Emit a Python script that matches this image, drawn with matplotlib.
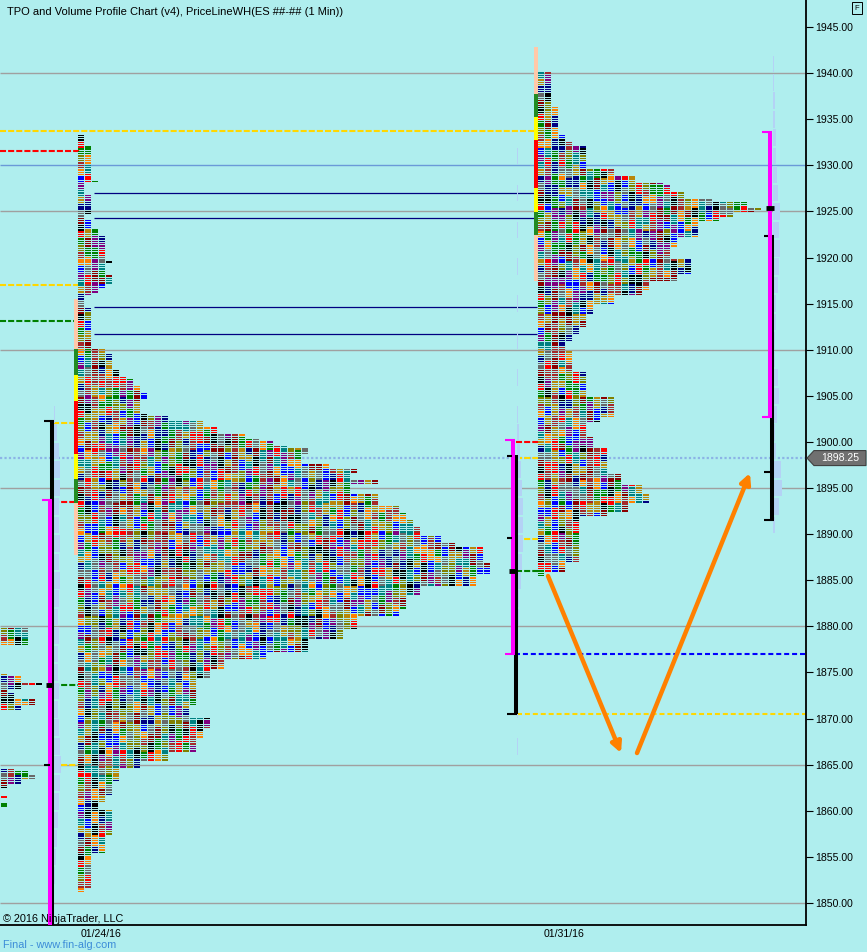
import numpy as np
import matplotlib
matplotlib.use("Agg")
import matplotlib.pyplot as plt
from matplotlib.patches import Polygon

plt.rcParams['font.family'] = ['Liberation Sans', 'DejaVu Sans']

TICK = 0.25
BG = "#AFEEEE"
PALETTE = ["#000000", "#008000", "#A52A2A", "#0000FF", "#008080", "#000080",
           "#8B0000", "#FF0000", "#808000", "#FF8000", "#800080", "#B8860B",
           "#696969"]

# TPO profile outlines: price where a run starts (going down) -> number of TPO columns
LEFT_START = [1933.18, 1932.09, 1928.30, 1928.08, 1926.89, 1924.61, 1924.18, 1923.09,
              1922.33, 1919.62, 1919.25, 1918.10, 1917.24, 1916.70, 1916.15, 1915.90,
              1914.63, 1910.08, 1909.65, 1907.91, 1907.15, 1906.83, 1906.17, 1905.42,
              1904.66, 1903.14, 1902.92, 1902.49, 1901.62, 1900.97, 1900.43, 1900.10,
              1899.67, 1899.34, 1898.58, 1897.72, 1897.17, 1896.63, 1895.87, 1895.33,
              1894.25, 1893.16, 1892.29, 1891.53, 1890.77, 1889.91, 1889.15, 1888.61,
              1886.98, 1885.57, 1884.27, 1883.40, 1881.99, 1881.01, 1879.61, 1878.52,
              1877.11, 1876.35, 1875.27, 1874.40, 1871.25, 1870.17, 1868.76, 1867.89,
              1866.37, 1865.29, 1864.64, 1863.12, 1861.71, 1860.84, 1860.08, 1857.37,
              1855.42, 1851.62]
LEFT_COLS = [1, 2, 3, 1, 2, 1, 2, 3,
             4, 5, 4, 5, 4, 3, 2, 1,
             2, 4, 5, 6, 7, 8, 9, 10,
             9, 10, 13, 18, 20, 24, 26, 28,
             30, 33, 32, 36, 40, 39, 43, 39,
             43, 46, 47, 48, 49, 52, 54, 58,
             59, 57, 49, 47, 46, 40, 38, 33,
             27, 21, 19, 17, 16, 19, 18, 17,
             13, 9, 6, 5, 4, 3, 5, 4,
             2, 1]
LEFT_LOW = 1851.25

RIGHT_START = [1940.12, 1936.32, 1933.40, 1932.64, 1932.09, 1929.71, 1928.84, 1928.08,
               1927.76, 1927.11, 1926.35, 1926.02, 1925.37, 1925.05, 1924.83, 1924.29,
               1923.85, 1922.23, 1921.14, 1919.95, 1918.10, 1917.35, 1916.37, 1915.83,
               1914.85, 1913.77, 1912.36, 1911.60, 1910.84, 1909.97, 1907.59, 1904.77,
               1902.70, 1902.05, 1900.54, 1899.45, 1896.63, 1895.33, 1894.25, 1893.49,
               1892.40, 1891.75, 1886.87, 1885.90]
RIGHT_COLS = [2, 3, 4, 5, 7, 11, 14, 18,
              19, 21, 25, 30, 32, 31, 28, 26,
              23, 20, 19, 22, 20, 16, 15, 11,
              8, 7, 6, 5, 4, 5, 7, 11,
              9, 7, 8, 10, 12, 15, 16, 13,
              10, 6, 4, 1]
RIGHT_LOW = 1885.5

PREV_START = [1879.71, 1877.87, 1874.94, 1874.51, 1873.97, 1873.53, 1873.21, 1872.77,
              1872.01, 1871.36, 1870.82, 1864.64, 1864.31, 1863.99, 1863.34, 1862.90,
              1862.25, 1861.71, 1861.39, 1860.84]
PREV_COLS = [4, 0, 1, 3, 6, 3, 1, 2,
             5, 3, 0, 2, 4, 5, 3, 1,
             0, 1, 0, 1]
PREV_LOW = 1860.5

# volume profiles (price, width)
VP_LEFT_P = [1903, 1901, 1899, 1897, 1895, 1893, 1891, 1889, 1887, 1885, 1883, 1881, 1879,
             1877, 1875, 1873, 1871, 1869, 1867, 1865, 1863, 1861, 1859, 1857, 1855, 1853]
VP_LEFT_W = [1, 3, 5, 6, 6, 5, 5, 6, 5, 6, 5, 4, 5, 4, 4, 5, 4, 5, 6, 7, 6, 5, 4, 3, 2, 1]
VP_MID_P = [1931, 1927, 1923, 1919, 1915, 1911, 1907, 1903, 1901, 1899, 1897, 1895, 1893,
            1891, 1889, 1887, 1885, 1883, 1881, 1879, 1875, 1871, 1867]
VP_MID_W = [1, 1, 1, 1, 1, 1, 1, 1, 2, 3, 4, 5, 6, 6, 6, 5, 4, 2, 2, 1, 1, 1, 1]
VP_RIGHT_P = [1941, 1939, 1937, 1935, 1933, 1931, 1929, 1927, 1925, 1923, 1921, 1919, 1917,
              1915, 1913, 1911, 1909, 1907, 1905, 1903, 1901, 1899, 1897, 1895, 1893, 1891]
VP_RIGHT_W = [1, 1, 2, 2, 3, 3, 4, 5, 7, 6, 7, 6, 5, 3, 3, 2, 2, 5, 6, 4, 2, 3, 8, 9, 6, 2]

# initial-balance / range columns: (top, bottom, colour)
LEFT_IB = [(1915.5, 1910.08, "#FFC8A8"), (1910.08, 1907.26, "#228B22"),
           (1907.26, 1904.44, "#FFFF00"), (1904.44, 1898.69, "#FF0000"),
           (1898.69, 1895.98, "#FFFF00"), (1895.98, 1893.38, "#228B22"),
           (1893.38, 1887.74, "#FFC8A8")]
RIGHT_IB = [(1942.83, 1937.73, "#FFC8A8"), (1937.73, 1935.24, "#228B22"),
            (1935.24, 1932.75, "#FFFF00"), (1932.75, 1927.54, "#FF0000"),
            (1927.54, 1924.94, "#FFFF00"), (1924.94, 1922.44, "#228B22"),
            (1922.44, 1917.45, "#FFC8A8")]

LAST_PRICE = 1898.25
GRAY_LEVELS = [1940, 1925, 1910, 1895, 1880, 1865, 1850]
NAVY_LEVELS = [1926.96, 1924.25, 1914.67, 1911.67]


def expand(starts, cols, low):
    rows = []
    p = round(starts[0] / TICK) * TICK
    k = 0
    while p >= low - 1e-9:
        while k + 1 < len(starts) and starts[k + 1] >= p:
            k += 1
        rows.append((p, cols[k]))
        p -= TICK
    return rows


def cell_color(r, c, seed):
    block = (r + (c * 3) % 5) // (3 + c % 3)
    return PALETTE[(block * 7 + c * 11 + seed + (block * c) % 5) % len(PALETTE)]


def draw_tpo(ax, starts, cols, low, x0, seed):
    ys, xs, cs = [], [], []
    for r, (p, w) in enumerate(expand(starts, cols, low)):
        for c in range(w):
            ys.append(p)
            xs.append(x0 + c * 7)
            cs.append(cell_color(r, c, seed))
    ax.barh(ys, 5.8, left=xs, height=0.15, color=cs, linewidth=0, zorder=3)


fig = plt.figure(figsize=(8.67, 9.52), dpi=100)
fig.patch.set_facecolor(BG)
ax = fig.add_axes([0, 27 / 952, 806 / 867, 925 / 952])
ax.set_facecolor(BG)
ax.set_xlim(0, 806)
ax.set_ylim(1847.61, 1947.93)

# reference lines
ax.hlines(GRAY_LEVELS, 0, 806, color="#A0A0A0", lw=1.0, zorder=1)
ax.hlines(1930, 0, 806, color="#6A9AD8", lw=1.0, zorder=1)
ax.hlines(NAVY_LEVELS, 94, 537, color="#000080", lw=0.9, zorder=2)
ax.hlines(LAST_PRICE, 0, 806, color="#8CB4E6", lw=1.6, linestyles=(0, (1, 1)), zorder=2)

dash = (0, (2.9, 1.0))
ax.hlines(1933.72, 0, 535, color="#FFD700", lw=1.5, linestyles=dash, zorder=2)
ax.hlines(1931.55, 0, 80, color="#FF0000", lw=1.5, linestyles=dash, zorder=2)
ax.hlines(1917.02, 0, 78, color="#FFD700", lw=1.5, linestyles=dash, zorder=2)
ax.hlines(1913.12, 0, 78, color="#008000", lw=1.5, linestyles=dash, zorder=2)
ax.hlines(1902.0, 53, 78, color="#FFD700", lw=1.5, linestyles=dash, zorder=2)
ax.hlines(1893.5, 53, 78, color="#FF0000", lw=1.5, linestyles=dash, zorder=2)
ax.hlines(1873.64, 53, 78, color="#008000", lw=1.5, linestyles=dash, zorder=2)
ax.hlines(1864.96, 53, 78, color="#FFD700", lw=1.5, linestyles=dash, zorder=2)
ax.hlines(1900.03, 516, 538, color="#FF0000", lw=1.5, linestyles=dash, zorder=2)
ax.hlines(1898.25, 516, 538, color="#FFD700", lw=1.5, linestyles=dash, zorder=2)
ax.hlines(1889.5, 516, 538, color="#FFD700", lw=1.5, linestyles=dash, zorder=2)
ax.hlines(1886.0, 516, 538, color="#008000", lw=1.5, linestyles=dash, zorder=2)
ax.hlines(1877.0, 515, 806, color="#0000FF", lw=1.5, linestyles=(0, (2.4, 1.4)), zorder=2)
ax.hlines(1870.5, 517, 806, color="#FFD700", lw=1.5, linestyles=(0, (2.4, 1.4)), zorder=2)

# volume profiles
ax.barh(VP_LEFT_P, VP_LEFT_W, left=54, height=1.8, color="#B4D2F5", linewidth=0, zorder=2)
ax.barh(VP_MID_P, VP_MID_W, left=517, height=1.8, color="#B4D2F5", linewidth=0, zorder=2)
ax.barh(VP_RIGHT_P, VP_RIGHT_W, left=773, height=1.8, color="#B4D2F5", linewidth=0, zorder=2)

# TPO profiles
draw_tpo(ax, LEFT_START, LEFT_COLS, LEFT_LOW, 78, 0)
draw_tpo(ax, RIGHT_START, RIGHT_COLS, RIGHT_LOW, 538, 4)
draw_tpo(ax, PREV_START, PREV_COLS, PREV_LOW, 1, 8)

for top, bot, col in LEFT_IB:
    ax.bar(76, top - bot, width=4, bottom=bot, color=col, linewidth=0, zorder=3)
for top, bot, col in RIGHT_IB:
    ax.bar(536, top - bot, width=4, bottom=bot, color=col, linewidth=0, zorder=3)

# value area / range bars
ax.vlines(52, 1845, 1902.27, color="black", lw=2.9, zorder=4)
ax.hlines(1902.27, 44, 54, color="black", lw=1.5, zorder=4)
ax.vlines(49.7, 1845, 1893.7, color="#FF00FF", lw=2.9, zorder=5)
ax.hlines(1893.7, 42, 51.7, color="#FF00FF", lw=1.5, zorder=5)
ax.hlines(1873.64, 46, 53, color="black", lw=3.5, zorder=6)
ax.hlines(1864.96, 44, 50, color="black", lw=1.5, zorder=6)

ax.vlines(515.5, 1870.5, 1898.58, color="black", lw=2.9, zorder=4)
ax.hlines(1870.5, 507, 517, color="black", lw=1.5, zorder=4)
ax.vlines(512.5, 1877.0, 1900.21, color="#FF00FF", lw=2.9, zorder=5)
ax.hlines([1900.21, 1877.0], 505, 514.5, color="#FF00FF", lw=1.5, zorder=5)
ax.hlines([1898.5, 1889.6], 507, 512, color="black", lw=1.5, zorder=6)
ax.hlines(1886.0, 509, 517, color="black", lw=3.5, zorder=6)

ax.vlines(772, 1891.53, 1922.33, color="black", lw=2.9, zorder=4)
ax.hlines([1922.33, 1891.53], 764, 773.5, color="black", lw=1.5, zorder=4)
ax.vlines(770.3, 1902.7, 1933.61, color="#FF00FF", lw=2.9, zorder=5)
ax.hlines([1933.61, 1902.7], 762, 772, color="#FF00FF", lw=1.5, zorder=5)
ax.hlines(1925.37, 766, 774, color="black", lw=3.5, zorder=6)
ax.hlines(1896.74, 764, 770, color="black", lw=1.5, zorder=6)

# arrows
arrow = dict(arrowstyle="-|>", color="#FF8000", lw=3.2, mutation_scale=15,
             shrinkA=0, shrinkB=0)
ax.annotate("", xy=(621, 1866.26), xytext=(548, 1885.46), arrowprops=arrow, zorder=7)
ax.annotate("", xy=(750, 1896.63), xytext=(637, 1866.26), arrowprops=arrow, zorder=7)

# axes styling
for side in ("left", "top"):
    ax.spines[side].set_visible(False)
for side in ("right", "bottom"):
    ax.spines[side].set_color("black")
    ax.spines[side].set_linewidth(1.3)
ax.yaxis.tick_right()
yt = np.arange(1850, 1946, 5)
ax.set_yticks(yt)
ax.set_yticklabels([f"{v:.2f}" for v in yt])
ax.tick_params(axis="y", direction="out", length=5, width=0.8, pad=1.5,
               labelsize=7.6, colors="black")
ax.set_xticks([101, 564])
ax.set_xticklabels(["01/24/16", "01/31/16"])
ax.tick_params(axis="x", length=0, pad=3, labelsize=7.6)

# last price marker
half = 7.5 / 9.221
box = Polygon([(807, LAST_PRICE), (814, LAST_PRICE + half), (866, LAST_PRICE + half),
               (866, LAST_PRICE - half), (814, LAST_PRICE - half)], closed=True,
              facecolor="#707070", edgecolor="#404040", lw=0.8, clip_on=False, zorder=8)
ax.add_patch(box)
ax.text(840, LAST_PRICE, f"{LAST_PRICE:.2f}", color="white", fontsize=7.6,
        ha="center", va="center", clip_on=False, zorder=9)

fig.text(7 / 867, 1 - 12 / 952, "TPO and Volume Profile Chart (v4), PriceLineWH(ES ##-## (1 Min))",
         fontsize=8, va="center", ha="left", color="black")
fig.text(3 / 867, 1 - 919 / 952, "\u00a9 2016 NinjaTrader, LLC", fontsize=7.8,
         va="center", ha="left", color="black", zorder=10)
fig.text(3 / 867, 1 - 945 / 952, "Final - www.fin-alg.com", fontsize=7.8,
         va="center", ha="left", color="#3C8CD8")
fig.text(857 / 867, 1 - 8 / 952, "F", fontsize=5.5, va="center", ha="center",
         bbox=dict(boxstyle="square,pad=0.35", facecolor=BG, edgecolor="black", lw=0.7))

fig.savefig("out.png", dpi=100, facecolor=BG)
